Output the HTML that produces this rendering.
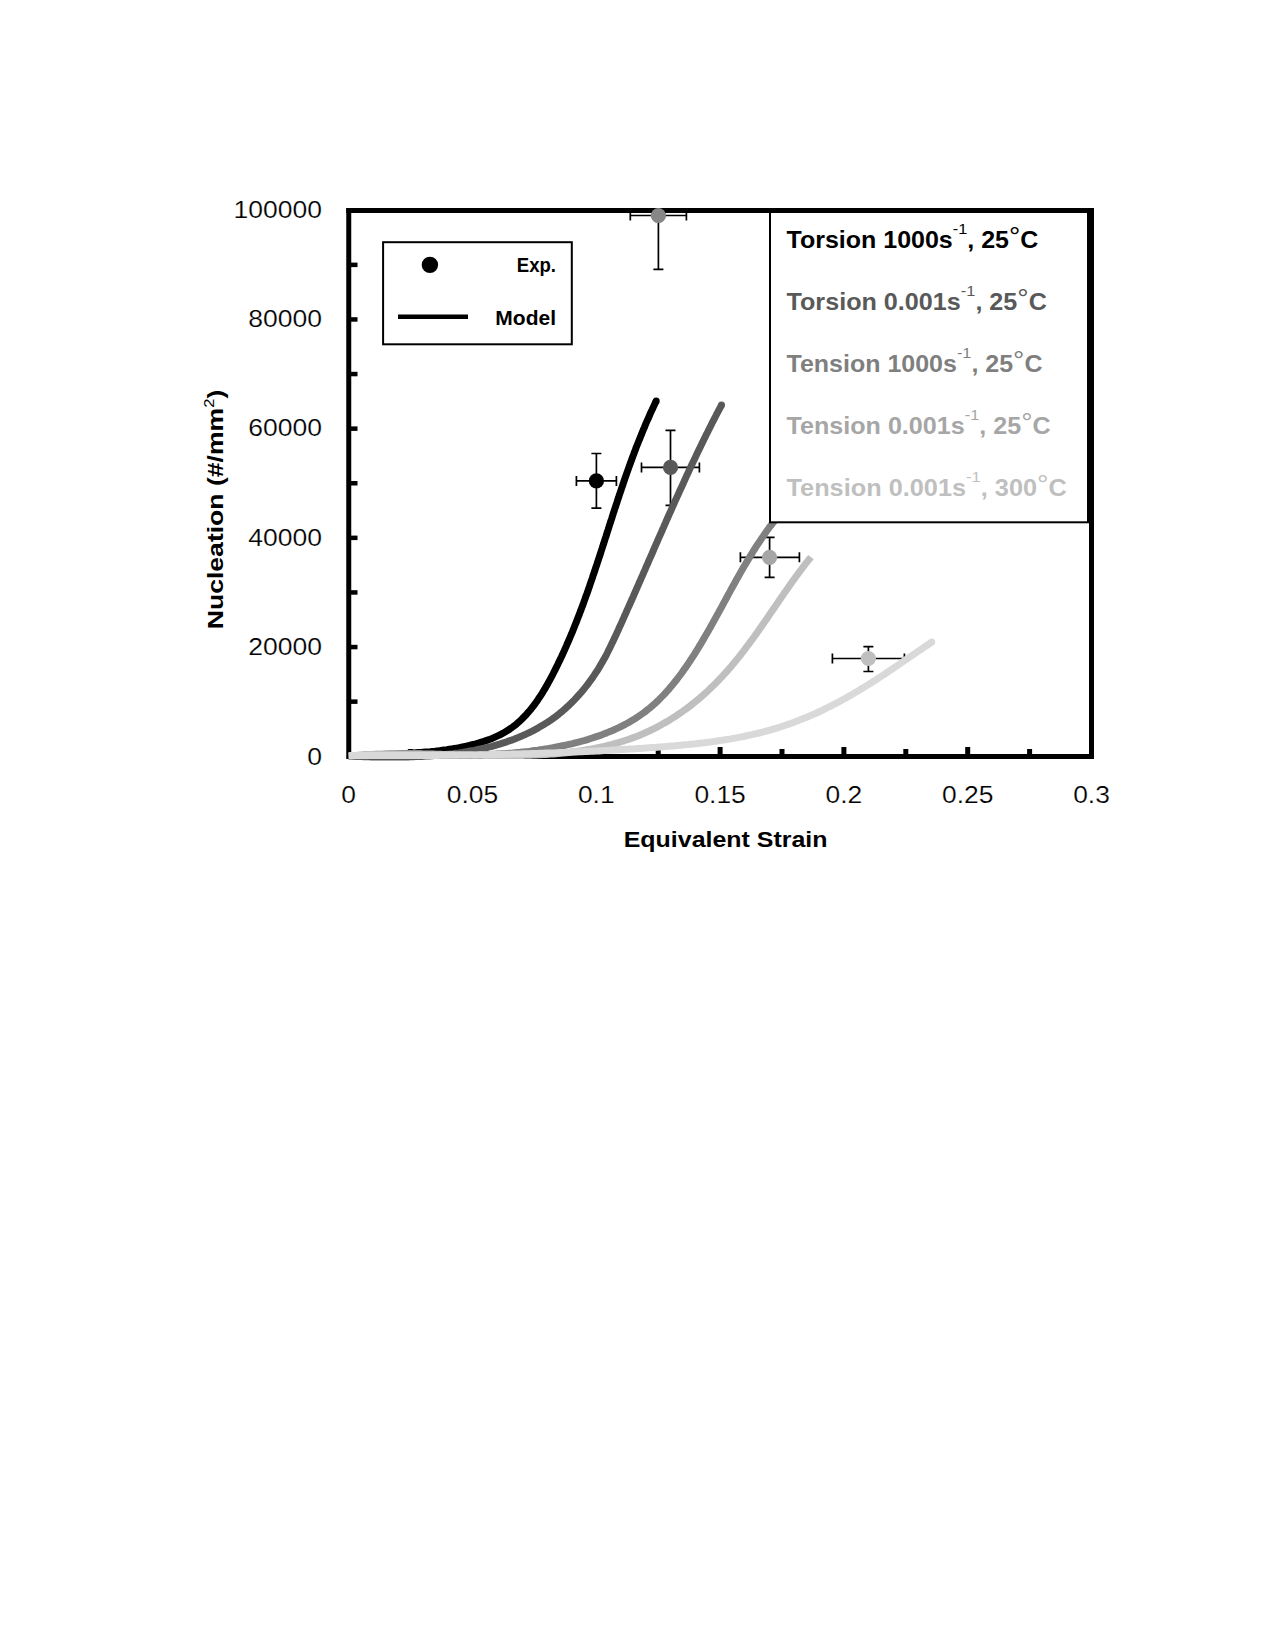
<!DOCTYPE html>
<html><head><meta charset="utf-8"><style>html,body{margin:0;padding:0;background:#fff;width:1275px;height:1650px;overflow:hidden}svg{display:block}</style></head><body>
<svg width="1275" height="1650" viewBox="0 0 1275 1650">
<rect x="0" y="0" width="1275" height="1650" fill="#fff"/>
<text x="322" y="764.5" font-family="Liberation Sans, sans-serif" font-size="24" text-anchor="end" fill="#000" stroke="#fff" stroke-width="0.2" textLength="14.8" lengthAdjust="spacingAndGlyphs">0</text>
<text x="322" y="655.1" font-family="Liberation Sans, sans-serif" font-size="24" text-anchor="end" fill="#000" stroke="#fff" stroke-width="0.2" textLength="73.8" lengthAdjust="spacingAndGlyphs">20000</text>
<text x="322" y="545.7" font-family="Liberation Sans, sans-serif" font-size="24" text-anchor="end" fill="#000" stroke="#fff" stroke-width="0.2" textLength="73.8" lengthAdjust="spacingAndGlyphs">40000</text>
<text x="322" y="436.2" font-family="Liberation Sans, sans-serif" font-size="24" text-anchor="end" fill="#000" stroke="#fff" stroke-width="0.2" textLength="73.8" lengthAdjust="spacingAndGlyphs">60000</text>
<text x="322" y="326.9" font-family="Liberation Sans, sans-serif" font-size="24" text-anchor="end" fill="#000" stroke="#fff" stroke-width="0.2" textLength="73.8" lengthAdjust="spacingAndGlyphs">80000</text>
<text x="322" y="217.5" font-family="Liberation Sans, sans-serif" font-size="24" text-anchor="end" fill="#000" stroke="#fff" stroke-width="0.2" textLength="88.5" lengthAdjust="spacingAndGlyphs">100000</text>
<text x="348.7" y="802.5" font-family="Liberation Sans, sans-serif" font-size="24" text-anchor="middle" fill="#000" stroke="#fff" stroke-width="0.2" textLength="14.7" lengthAdjust="spacingAndGlyphs">0</text>
<text x="472.5" y="802.5" font-family="Liberation Sans, sans-serif" font-size="24" text-anchor="middle" fill="#000" stroke="#fff" stroke-width="0.2" textLength="51.4" lengthAdjust="spacingAndGlyphs">0.05</text>
<text x="596.3" y="802.5" font-family="Liberation Sans, sans-serif" font-size="24" text-anchor="middle" fill="#000" stroke="#fff" stroke-width="0.2" textLength="36.7" lengthAdjust="spacingAndGlyphs">0.1</text>
<text x="720.1" y="802.5" font-family="Liberation Sans, sans-serif" font-size="24" text-anchor="middle" fill="#000" stroke="#fff" stroke-width="0.2" textLength="51.4" lengthAdjust="spacingAndGlyphs">0.15</text>
<text x="843.9" y="802.5" font-family="Liberation Sans, sans-serif" font-size="24" text-anchor="middle" fill="#000" stroke="#fff" stroke-width="0.2" textLength="36.7" lengthAdjust="spacingAndGlyphs">0.2</text>
<text x="967.7" y="802.5" font-family="Liberation Sans, sans-serif" font-size="24" text-anchor="middle" fill="#000" stroke="#fff" stroke-width="0.2" textLength="51.4" lengthAdjust="spacingAndGlyphs">0.25</text>
<text x="1091.5" y="802.5" font-family="Liberation Sans, sans-serif" font-size="24" text-anchor="middle" fill="#000" stroke="#fff" stroke-width="0.2" textLength="36.7" lengthAdjust="spacingAndGlyphs">0.3</text>
<g transform="translate(725.6,0) scale(1.114,1)"><text x="0" y="846.6" font-family="Liberation Sans, sans-serif" font-size="22.4" font-weight="bold" text-anchor="middle" fill="#000">Equivalent Strain</text></g>
<text transform="translate(223,509.5) rotate(-90) scale(1.156,1)" font-family="Liberation Sans, sans-serif" font-size="23" font-weight="bold" text-anchor="middle" fill="#000">Nucleation (#/mm<tspan font-size="14.3" dy="-9" font-weight="normal">2</tspan><tspan dy="9">)</tspan></text>
<rect x="349" y="699.4" width="8.5" height="4.5" fill="#000"/>
<rect x="349" y="644.8" width="8.5" height="4.5" fill="#000"/>
<rect x="349" y="590.2" width="8.5" height="4.5" fill="#000"/>
<rect x="349" y="535.6" width="8.5" height="4.5" fill="#000"/>
<rect x="349" y="481.0" width="8.5" height="4.5" fill="#000"/>
<rect x="349" y="426.4" width="8.5" height="4.5" fill="#000"/>
<rect x="349" y="371.8" width="8.5" height="4.5" fill="#000"/>
<rect x="349" y="317.2" width="8.5" height="4.5" fill="#000"/>
<rect x="349" y="262.6" width="8.5" height="4.5" fill="#000"/>
<rect x="408.1" y="749" width="5" height="7" fill="#000"/>
<rect x="470.0" y="747" width="5" height="9" fill="#000"/>
<rect x="531.9" y="749" width="5" height="7" fill="#000"/>
<rect x="593.8" y="747" width="5" height="9" fill="#000"/>
<rect x="655.7" y="749" width="5" height="7" fill="#000"/>
<rect x="717.6" y="747" width="5" height="9" fill="#000"/>
<rect x="779.5" y="749" width="5" height="7" fill="#000"/>
<rect x="841.4" y="747" width="5" height="9" fill="#000"/>
<rect x="903.3" y="749" width="5" height="7" fill="#000"/>
<rect x="965.2" y="747" width="5" height="9" fill="#000"/>
<rect x="1027.1" y="749" width="5" height="7" fill="#000"/>
<rect x="348.75" y="210.5" width="742.75" height="546" fill="none" stroke="#000" stroke-width="5"/>
<g stroke="#000" stroke-width="1.7" fill="none"><path d="M576.4,480.9 H616.4 M576.4,475.9 V485.9 M616.4,475.9 V485.9"/><path d="M596.4,453.5 V508.2 M591.4,453.5 H601.4 M591.4,508.2 H601.4"/></g><circle cx="596.4" cy="480.9" r="7.6" fill="#000"/>
<g stroke="#000" stroke-width="1.7" fill="none"><path d="M641.5,467.4 H699.4 M641.5,462.4 V472.4 M699.4,462.4 V472.4"/><path d="M670.5,430.3 V505.3 M665.5,430.3 H675.5 M665.5,505.3 H675.5"/></g><circle cx="670.5" cy="467.4" r="7.6" fill="#595959"/>
<g stroke="#000" stroke-width="1.7" fill="none"><path d="M630.3,215.5 H686.4 M630.3,210.5 V220.5 M686.4,210.5 V220.5"/><path d="M658.4,215.5 V269.4 M653.4,269.4 H663.4"/></g><circle cx="658.4" cy="215.5" r="7.5" fill="#878787"/>
<g stroke="#000" stroke-width="1.7" fill="none"><path d="M740.4,557.3 H799.4 M740.4,552.3 V562.3 M799.4,552.3 V562.3"/><path d="M769.6,537.4 V577.3 M764.6,537.4 H774.6 M764.6,577.3 H774.6"/></g><circle cx="769.6" cy="557.3" r="7.6" fill="#a6a6a6"/>
<g stroke="#000" stroke-width="1.7" fill="none"><path d="M832.4,658.5 H904.4 M832.4,653.5 V663.5 M904.4,653.5 V663.5"/><path d="M868.4,646.7 V671.5 M863.4,646.7 H873.4 M863.4,671.5 H873.4"/></g><circle cx="868.4" cy="658.5" r="7.6" fill="#bfbfbf"/>
<path d="M348.7,756.3 L351.1,756.1 L353.6,755.9 L356.0,755.8 L358.4,755.6 L360.8,755.4 L363.2,755.3 L365.6,755.2 L368.0,755.1 L370.4,754.9 L372.8,754.8 L375.2,754.7 L377.6,754.6 L380.0,754.5 L382.4,754.4 L384.8,754.3 L387.1,754.2 L389.5,754.1 L391.9,754.0 L394.3,753.9 L396.7,753.8 L399.1,753.7 L401.5,753.6 L403.9,753.5 L406.3,753.4 L408.7,753.2 L411.1,753.1 L413.5,753.0 L415.9,752.8 L418.3,752.6 L420.7,752.5 L423.1,752.3 L425.5,752.1 L427.9,751.9 L430.3,751.7 L432.7,751.4 L435.1,751.2 L437.4,750.9 L439.8,750.6 L442.2,750.3 L444.6,750.0 L447.0,749.7 L449.4,749.3 L451.8,748.9 L454.3,748.5 L456.7,748.1 L459.1,747.7 L461.5,747.2 L463.9,746.7 L466.3,746.2 L468.7,745.6 L471.1,745.0 L473.5,744.4 L475.9,743.8 L478.3,743.1 L480.6,742.4 L483.0,741.7 L485.3,740.9 L487.6,740.1 L489.9,739.3 L492.2,738.4 L494.4,737.4 L496.6,736.4 L498.8,735.4 L500.9,734.3 L503.0,733.2 L505.1,732.0 L507.1,730.8 L509.1,729.5 L511.0,728.2 L512.9,726.8 L514.7,725.4 L516.6,723.9 L518.3,722.4 L520.1,720.8 L521.8,719.2 L523.4,717.5 L525.1,715.8 L526.7,714.1 L528.2,712.3 L529.8,710.5 L531.3,708.7 L532.7,706.9 L534.2,705.0 L535.6,703.0 L537.0,701.1 L538.3,699.1 L539.7,697.1 L541.0,695.1 L542.3,693.1 L543.5,691.0 L544.8,688.9 L546.0,686.8 L547.2,684.7 L548.4,682.6 L549.6,680.4 L550.7,678.3 L551.9,676.1 L553.0,674.0 L554.1,671.8 L555.2,669.6 L556.3,667.4 L557.4,665.2 L558.4,663.1 L559.5,660.9 L560.5,658.7 L561.6,656.5 L562.6,654.3 L563.6,652.1 L564.6,649.8 L565.6,647.6 L566.6,645.4 L567.5,643.2 L568.5,641.0 L569.5,638.7 L570.4,636.5 L571.3,634.3 L572.3,632.1 L573.2,629.8 L574.1,627.6 L575.0,625.3 L575.9,623.1 L576.8,620.9 L577.6,618.6 L578.5,616.4 L579.4,614.1 L580.2,611.9 L581.1,609.6 L581.9,607.3 L582.8,605.1 L583.6,602.8 L584.4,600.6 L585.2,598.3 L586.0,596.0 L586.9,593.7 L587.7,591.5 L588.5,589.2 L589.3,586.9 L590.0,584.7 L590.8,582.4 L591.6,580.1 L592.4,577.8 L593.1,575.5 L593.9,573.3 L594.7,571.0 L595.4,568.7 L596.2,566.4 L597.0,564.1 L597.7,561.8 L598.5,559.5 L599.2,557.3 L600.0,555.0 L600.7,552.7 L601.4,550.4 L602.2,548.1 L602.9,545.8 L603.7,543.5 L604.4,541.2 L605.1,538.9 L605.9,536.6 L606.6,534.4 L607.3,532.1 L608.1,529.8 L608.8,527.5 L609.5,525.2 L610.3,522.9 L611.0,520.6 L611.8,518.3 L612.5,516.0 L613.2,513.7 L614.0,511.4 L614.7,509.1 L615.5,506.9 L616.2,504.6 L617.0,502.3 L617.7,500.0 L618.5,497.7 L619.2,495.4 L620.0,493.1 L620.8,490.9 L621.5,488.6 L622.3,486.3 L623.1,484.0 L623.8,481.7 L624.6,479.5 L625.4,477.2 L626.2,474.9 L627.0,472.6 L627.8,470.4 L628.6,468.1 L629.4,465.8 L630.2,463.6 L631.1,461.3 L631.9,459.0 L632.7,456.8 L633.6,454.5 L634.4,452.3 L635.3,450.0 L636.1,447.7 L637.0,445.5 L637.9,443.2 L638.8,441.0 L639.7,438.8 L640.6,436.5 L641.5,434.3 L642.4,432.0 L643.3,429.8 L644.3,427.6 L645.2,425.3 L646.1,423.1 L647.1,420.9 L648.1,418.7 L649.1,416.5 L650.0,414.2 L651.0,412.0 L652.1,409.8 L653.1,407.6 L654.1,405.4 L655.1,403.2 L656.2,401.0" fill="none" stroke="#000" stroke-width="7" stroke-linecap="butt" stroke-linejoin="round"/>
<circle cx="656.2" cy="401.0" r="3.5" fill="#000"/>
<path d="M348.7,756.2 L351.2,756.3 L353.7,756.4 L356.2,756.4 L358.7,756.5 L361.2,756.6 L363.8,756.7 L366.3,756.7 L368.9,756.8 L371.4,756.9 L374.0,756.9 L376.6,756.9 L379.2,757.0 L381.8,757.0 L384.4,757.0 L387.0,757.1 L389.6,757.1 L392.2,757.1 L394.9,757.1 L397.5,757.0 L400.1,757.0 L402.8,757.0 L405.4,756.9 L408.1,756.9 L410.7,756.8 L413.4,756.7 L416.0,756.6 L418.7,756.5 L421.3,756.4 L424.0,756.2 L426.6,756.1 L429.3,755.9 L431.9,755.7 L434.6,755.5 L437.2,755.3 L439.9,755.1 L442.5,754.8 L445.2,754.6 L447.8,754.3 L450.5,754.0 L453.1,753.7 L455.7,753.3 L458.4,753.0 L461.0,752.6 L463.6,752.2 L466.2,751.8 L468.8,751.3 L471.4,750.8 L474.0,750.4 L476.6,749.8 L479.1,749.3 L481.7,748.8 L484.3,748.2 L486.8,747.6 L489.3,746.9 L491.9,746.3 L494.4,745.6 L496.9,744.9 L499.4,744.2 L501.8,743.4 L504.3,742.6 L506.8,741.8 L509.2,740.9 L511.6,740.1 L514.0,739.2 L516.4,738.2 L518.8,737.3 L521.2,736.3 L523.5,735.2 L525.9,734.2 L528.2,733.1 L530.5,732.0 L532.8,730.8 L535.1,729.6 L537.3,728.4 L539.5,727.1 L541.7,725.8 L543.9,724.5 L546.1,723.1 L548.3,721.7 L550.4,720.3 L552.5,718.8 L554.6,717.3 L556.7,715.8 L558.7,714.2 L560.7,712.5 L562.7,710.9 L564.7,709.2 L566.6,707.4 L568.6,705.6 L570.5,703.8 L572.3,702.0 L574.2,700.1 L576.0,698.2 L577.8,696.2 L579.6,694.2 L581.3,692.2 L583.0,690.2 L584.7,688.1 L586.3,686.1 L588.0,684.0 L589.5,681.8 L591.1,679.7 L592.6,677.6 L594.1,675.4 L595.5,673.2 L597.0,671.0 L598.4,668.8 L599.7,666.6 L601.0,664.3 L602.3,662.1 L603.6,659.8 L604.9,657.6 L606.1,655.3 L607.3,653.0 L608.4,650.7 L609.6,648.4 L610.7,646.1 L611.8,643.7 L613.0,641.4 L614.0,639.1 L615.1,636.7 L616.2,634.4 L617.3,632.0 L618.4,629.7 L619.4,627.3 L620.5,625.0 L621.6,622.6 L622.6,620.3 L623.7,617.9 L624.7,615.5 L625.8,613.2 L626.8,610.8 L627.9,608.4 L629.0,606.1 L630.0,603.7 L631.1,601.3 L632.1,599.0 L633.2,596.6 L634.2,594.2 L635.3,591.8 L636.3,589.4 L637.3,587.1 L638.4,584.7 L639.4,582.3 L640.5,579.9 L641.5,577.5 L642.6,575.2 L643.6,572.8 L644.7,570.4 L645.7,568.0 L646.7,565.6 L647.8,563.2 L648.8,560.8 L649.9,558.4 L650.9,556.1 L652.0,553.7 L653.0,551.3 L654.0,548.9 L655.1,546.5 L656.1,544.1 L657.2,541.7 L658.2,539.3 L659.3,536.9 L660.3,534.6 L661.4,532.2 L662.4,529.8 L663.5,527.4 L664.5,525.0 L665.6,522.6 L666.6,520.2 L667.7,517.8 L668.7,515.4 L669.8,513.1 L670.9,510.7 L671.9,508.3 L673.0,505.9 L674.1,503.5 L675.1,501.1 L676.2,498.8 L677.3,496.4 L678.4,494.0 L679.4,491.6 L680.5,489.2 L681.6,486.9 L682.7,484.5 L683.8,482.1 L684.8,479.8 L685.9,477.4 L687.0,475.0 L688.1,472.7 L689.2,470.3 L690.3,467.9 L691.4,465.6 L692.5,463.2 L693.7,460.8 L694.8,458.5 L695.9,456.1 L697.0,453.8 L698.1,451.4 L699.3,449.1 L700.4,446.7 L701.5,444.4 L702.7,442.1 L703.8,439.7 L705.0,437.4 L706.1,435.1 L707.3,432.7 L708.4,430.4 L709.6,428.1 L710.8,425.7 L711.9,423.4 L713.1,421.1 L714.3,418.8 L715.5,416.5 L716.7,414.2 L717.9,411.9 L719.1,409.6 L720.3,407.3 L721.5,405.0" fill="none" stroke="#595959" stroke-width="7" stroke-linecap="butt" stroke-linejoin="round"/>
<circle cx="721.5" cy="405.0" r="3.5" fill="#595959"/>
<path d="M348.7,756.3 L351.2,756.2 L353.7,756.1 L356.1,756.0 L358.6,755.9 L361.1,755.8 L363.6,755.7 L366.1,755.7 L368.6,755.6 L371.1,755.5 L373.6,755.5 L376.1,755.4 L378.6,755.4 L381.1,755.4 L383.6,755.3 L386.1,755.3 L388.6,755.3 L391.1,755.3 L393.6,755.3 L396.1,755.3 L398.6,755.3 L401.1,755.3 L403.7,755.3 L406.2,755.3 L408.7,755.3 L411.2,755.3 L413.8,755.3 L416.3,755.3 L418.8,755.3 L421.3,755.3 L423.9,755.3 L426.4,755.3 L428.9,755.4 L431.5,755.4 L434.0,755.4 L436.5,755.4 L439.1,755.4 L441.6,755.4 L444.1,755.4 L446.7,755.4 L449.2,755.4 L451.7,755.3 L454.3,755.3 L456.8,755.3 L459.3,755.3 L461.9,755.2 L464.4,755.2 L467.0,755.2 L469.5,755.1 L472.0,755.0 L474.6,755.0 L477.1,754.9 L479.6,754.8 L482.2,754.7 L484.7,754.6 L487.3,754.5 L489.8,754.4 L492.3,754.3 L494.9,754.2 L497.4,754.0 L499.9,753.9 L502.4,753.7 L505.0,753.6 L507.5,753.4 L510.0,753.2 L512.6,753.0 L515.1,752.7 L517.6,752.5 L520.1,752.3 L522.7,752.0 L525.2,751.7 L527.7,751.5 L530.2,751.2 L532.7,750.8 L535.2,750.5 L537.7,750.2 L540.3,749.8 L542.8,749.4 L545.3,749.0 L547.8,748.6 L550.3,748.2 L552.8,747.8 L555.3,747.3 L557.8,746.8 L560.3,746.3 L562.7,745.8 L565.2,745.3 L567.7,744.7 L570.2,744.1 L572.7,743.6 L575.2,742.9 L577.6,742.3 L580.1,741.7 L582.6,741.0 L585.0,740.3 L587.5,739.6 L589.9,738.8 L592.3,738.0 L594.8,737.2 L597.2,736.4 L599.6,735.6 L602.0,734.7 L604.3,733.8 L606.7,732.9 L609.0,731.9 L611.4,731.0 L613.7,730.0 L616.0,728.9 L618.3,727.8 L620.5,726.8 L622.8,725.6 L625.0,724.5 L627.2,723.3 L629.4,722.1 L631.5,720.8 L633.7,719.5 L635.8,718.2 L637.8,716.8 L639.9,715.4 L641.9,714.0 L643.9,712.6 L645.9,711.1 L647.8,709.5 L649.8,708.0 L651.7,706.4 L653.5,704.7 L655.4,703.1 L657.2,701.4 L659.0,699.7 L660.7,697.9 L662.5,696.1 L664.2,694.3 L665.9,692.5 L667.6,690.6 L669.2,688.8 L670.8,686.8 L672.4,684.9 L674.0,683.0 L675.6,681.0 L677.2,679.0 L678.7,677.0 L680.2,675.0 L681.7,673.0 L683.2,670.9 L684.6,668.8 L686.1,666.8 L687.5,664.7 L688.9,662.6 L690.3,660.5 L691.7,658.3 L693.1,656.2 L694.5,654.1 L695.8,651.9 L697.1,649.8 L698.5,647.6 L699.8,645.4 L701.1,643.3 L702.4,641.1 L703.7,638.9 L704.9,636.7 L706.2,634.5 L707.5,632.4 L708.7,630.2 L710.0,628.0 L711.2,625.8 L712.4,623.6 L713.7,621.3 L714.9,619.1 L716.1,616.9 L717.3,614.7 L718.6,612.5 L719.8,610.3 L721.0,608.1 L722.2,605.9 L723.4,603.6 L724.6,601.4 L725.8,599.2 L727.0,597.0 L728.2,594.8 L729.4,592.6 L730.6,590.4 L731.8,588.1 L733.1,585.9 L734.3,583.7 L735.5,581.5 L736.7,579.3 L738.0,577.1 L739.2,575.0 L740.4,572.8 L741.7,570.6 L742.9,568.4 L744.2,566.2 L745.5,564.1 L746.8,561.9 L748.1,559.7 L749.4,557.6 L750.7,555.4 L752.0,553.3 L753.3,551.2 L754.7,549.0 L756.0,546.9 L757.4,544.8 L758.8,542.7 L760.2,540.6 L761.6,538.5 L763.0,536.5 L764.4,534.4 L765.9,532.3 L767.3,530.3 L768.8,528.2 L770.3,526.2 L771.9,524.2 L773.4,522.2 L775.0,520.2 L776.5,518.2 L778.1,516.2 L779.7,514.3 L781.4,512.3 L783.0,510.4 L784.7,508.5" fill="none" stroke="#808080" stroke-width="7" stroke-linecap="butt" stroke-linejoin="round"/>
<circle cx="784.7" cy="508.5" r="3.5" fill="#808080"/>
<path d="M348.8,756.2 L351.0,755.9 L353.3,755.7 L355.6,755.5 L357.9,755.3 L360.2,755.1 L362.5,754.9 L364.8,754.8 L367.1,754.6 L369.5,754.5 L371.8,754.4 L374.2,754.3 L376.5,754.1 L378.9,754.1 L381.3,754.0 L383.7,753.9 L386.1,753.8 L388.5,753.8 L390.9,753.8 L393.3,753.7 L395.8,753.7 L398.2,753.7 L400.6,753.7 L403.1,753.7 L405.6,753.7 L408.0,753.7 L410.5,753.7 L413.0,753.7 L415.5,753.8 L418.0,753.8 L420.5,753.8 L423.0,753.9 L425.5,753.9 L428.0,754.0 L430.5,754.0 L433.0,754.1 L435.6,754.2 L438.1,754.2 L440.6,754.3 L443.2,754.4 L445.7,754.4 L448.3,754.5 L450.8,754.6 L453.4,754.6 L455.9,754.7 L458.5,754.8 L461.0,754.9 L463.6,754.9 L466.2,755.0 L468.7,755.1 L471.3,755.1 L473.9,755.2 L476.5,755.2 L479.0,755.3 L481.6,755.3 L484.2,755.4 L486.8,755.4 L489.3,755.5 L491.9,755.5 L494.5,755.5 L497.1,755.6 L499.7,755.6 L502.2,755.6 L504.8,755.6 L507.4,755.6 L510.0,755.6 L512.6,755.5 L515.1,755.5 L517.7,755.5 L520.3,755.4 L522.8,755.4 L525.4,755.3 L528.0,755.2 L530.5,755.2 L533.1,755.1 L535.7,755.0 L538.2,754.8 L540.8,754.7 L543.3,754.6 L545.8,754.4 L548.4,754.2 L550.9,754.1 L553.5,753.9 L556.0,753.7 L558.5,753.4 L561.0,753.2 L563.5,753.0 L566.0,752.7 L568.5,752.4 L571.0,752.1 L573.5,751.8 L576.0,751.5 L578.5,751.1 L581.0,750.8 L583.4,750.4 L585.9,750.0 L588.4,749.5 L590.8,749.1 L593.2,748.7 L595.7,748.2 L598.1,747.7 L600.5,747.2 L602.9,746.6 L605.3,746.1 L607.7,745.5 L610.1,744.9 L612.5,744.3 L614.8,743.6 L617.2,743.0 L619.5,742.3 L621.9,741.5 L624.2,740.8 L626.5,740.0 L628.8,739.3 L631.1,738.4 L633.4,737.6 L635.7,736.8 L638.0,735.9 L640.2,735.0 L642.5,734.0 L644.7,733.0 L646.9,732.0 L649.1,731.0 L651.3,730.0 L653.5,728.9 L655.7,727.8 L657.8,726.7 L660.0,725.5 L662.1,724.3 L664.2,723.1 L666.4,721.9 L668.5,720.7 L670.5,719.4 L672.6,718.1 L674.7,716.8 L676.7,715.4 L678.8,714.1 L680.8,712.7 L682.8,711.3 L684.8,709.8 L686.8,708.4 L688.8,706.9 L690.7,705.4 L692.7,703.9 L694.6,702.3 L696.5,700.8 L698.4,699.2 L700.3,697.6 L702.2,695.9 L704.0,694.3 L705.9,692.6 L707.7,691.0 L709.5,689.3 L711.3,687.5 L713.1,685.8 L714.9,684.1 L716.6,682.3 L718.4,680.5 L720.1,678.7 L721.8,676.9 L723.5,675.0 L725.2,673.2 L726.9,671.3 L728.5,669.4 L730.2,667.6 L731.8,665.6 L733.4,663.7 L735.0,661.8 L736.6,659.8 L738.2,657.9 L739.8,655.9 L741.3,653.9 L742.9,651.9 L744.4,649.9 L745.9,647.9 L747.4,645.9 L748.9,643.9 L750.4,641.9 L751.9,639.8 L753.4,637.8 L754.9,635.7 L756.4,633.7 L757.8,631.6 L759.3,629.5 L760.7,627.5 L762.2,625.4 L763.6,623.3 L765.0,621.3 L766.5,619.2 L767.9,617.1 L769.3,615.0 L770.7,612.9 L772.2,610.9 L773.6,608.8 L775.0,606.7 L776.4,604.7 L777.8,602.6 L779.2,600.5 L780.6,598.5 L782.0,596.4 L783.4,594.4 L784.8,592.3 L786.3,590.3 L787.7,588.3 L789.1,586.2 L790.5,584.2 L791.9,582.2 L793.4,580.2 L794.8,578.2 L796.2,576.2 L797.7,574.3 L799.1,572.3 L800.6,570.4 L802.0,568.4 L803.5,566.5 L804.9,564.6 L806.4,562.7 L807.9,560.9 L809.4,559.0 L810.9,557.1" fill="none" stroke="#bfbfbf" stroke-width="7" stroke-linecap="butt" stroke-linejoin="round"/>
<path d="M348.7,755.5 L351.5,755.5 L354.3,755.5 L357.1,755.5 L359.9,755.5 L362.7,755.6 L365.4,755.6 L368.2,755.6 L371.0,755.6 L373.8,755.6 L376.6,755.6 L379.4,755.6 L382.2,755.6 L384.9,755.6 L387.7,755.6 L390.5,755.6 L393.3,755.6 L396.1,755.6 L398.8,755.6 L401.6,755.6 L404.4,755.6 L407.2,755.5 L410.0,755.5 L412.7,755.5 L415.5,755.5 L418.3,755.5 L421.1,755.5 L423.8,755.5 L426.6,755.4 L429.4,755.4 L432.2,755.4 L434.9,755.4 L437.7,755.4 L440.5,755.3 L443.3,755.3 L446.0,755.3 L448.8,755.3 L451.6,755.2 L454.4,755.2 L457.1,755.2 L459.9,755.1 L462.7,755.1 L465.5,755.1 L468.2,755.0 L471.0,755.0 L473.8,754.9 L476.6,754.9 L479.3,754.8 L482.1,754.8 L484.9,754.7 L487.6,754.7 L490.4,754.6 L493.2,754.6 L496.0,754.5 L498.7,754.5 L501.5,754.4 L504.3,754.3 L507.1,754.3 L509.8,754.2 L512.6,754.1 L515.4,754.1 L518.1,754.0 L520.9,753.9 L523.7,753.8 L526.5,753.8 L529.2,753.7 L532.0,753.6 L534.8,753.5 L537.6,753.4 L540.3,753.3 L543.1,753.2 L545.9,753.1 L548.7,753.1 L551.4,753.0 L554.2,752.9 L557.0,752.7 L559.8,752.6 L562.5,752.5 L565.3,752.4 L568.1,752.3 L570.9,752.2 L573.6,752.1 L576.4,751.9 L579.2,751.8 L582.0,751.7 L584.8,751.6 L587.5,751.4 L590.3,751.3 L593.1,751.2 L595.9,751.0 L598.7,750.9 L601.4,750.7 L604.2,750.6 L607.0,750.4 L609.8,750.3 L612.6,750.1 L615.4,750.0 L618.1,749.8 L620.9,749.6 L623.7,749.5 L626.5,749.3 L629.3,749.1 L632.1,748.9 L634.9,748.8 L637.7,748.6 L640.4,748.4 L643.2,748.2 L646.0,748.0 L648.8,747.8 L651.6,747.6 L654.4,747.4 L657.2,747.2 L660.0,747.0 L662.8,746.8 L665.6,746.6 L668.4,746.3 L671.2,746.1 L673.9,745.9 L676.7,745.6 L679.5,745.4 L682.3,745.1 L685.1,744.8 L687.9,744.6 L690.7,744.3 L693.4,744.0 L696.2,743.7 L699.0,743.3 L701.8,743.0 L704.5,742.7 L707.3,742.3 L710.1,742.0 L712.8,741.6 L715.6,741.2 L718.3,740.8 L721.1,740.4 L723.8,740.0 L726.6,739.5 L729.3,739.1 L732.1,738.6 L734.8,738.1 L737.5,737.6 L740.2,737.1 L742.9,736.6 L745.6,736.0 L748.3,735.4 L751.0,734.8 L753.7,734.2 L756.4,733.6 L759.1,733.0 L761.8,732.3 L764.4,731.6 L767.1,730.9 L769.7,730.2 L772.4,729.4 L775.0,728.6 L777.6,727.8 L780.3,727.0 L782.9,726.2 L785.5,725.3 L788.1,724.4 L790.6,723.5 L793.2,722.6 L795.8,721.6 L798.4,720.6 L800.9,719.6 L803.5,718.6 L806.0,717.6 L808.5,716.5 L811.0,715.4 L813.6,714.3 L816.1,713.2 L818.6,712.0 L821.1,710.8 L823.5,709.7 L826.0,708.4 L828.5,707.2 L831.0,706.0 L833.4,704.7 L835.9,703.4 L838.3,702.1 L840.7,700.8 L843.2,699.5 L845.6,698.2 L848.0,696.8 L850.4,695.4 L852.8,694.0 L855.2,692.6 L857.6,691.2 L860.0,689.8 L862.3,688.3 L864.7,686.9 L867.1,685.4 L869.4,684.0 L871.8,682.5 L874.1,681.0 L876.5,679.5 L878.8,677.9 L881.1,676.4 L883.5,674.9 L885.8,673.3 L888.1,671.8 L890.4,670.2 L892.7,668.7 L895.0,667.1 L897.3,665.6 L899.6,664.0 L901.9,662.4 L904.2,660.8 L906.5,659.3 L908.8,657.7 L911.1,656.1 L913.4,654.6 L915.7,653.0 L918.0,651.4 L920.3,649.9 L922.6,648.3 L924.8,646.7 L927.1,645.2 L929.4,643.7 L931.7,642.1" fill="none" stroke="#d9d9d9" stroke-width="7" stroke-linecap="butt" stroke-linejoin="round"/>
<circle cx="931.7" cy="642.1" r="3.5" fill="#d9d9d9"/>
<rect x="383.1" y="242.2" width="188.7" height="102.1" fill="#fff" stroke="#000" stroke-width="2"/>
<circle cx="429.9" cy="264.9" r="8.2" fill="#000"/>
<rect x="398" y="314.5" width="70" height="4.5" fill="#000"/>
<text transform="translate(556,0) scale(0.93,1)" x="0" y="271.9" font-family="Liberation Sans, sans-serif" font-size="20" font-weight="bold" text-anchor="end" fill="#000">Exp.</text>
<text transform="translate(556,0) scale(1.05,1)" x="0" y="324.9" font-family="Liberation Sans, sans-serif" font-size="20" font-weight="bold" text-anchor="end" fill="#000">Model</text>
<rect x="770" y="211" width="318" height="311.3" fill="#fff" stroke="#000" stroke-width="2"/>
<rect x="346.25" y="208" width="747.75" height="5" fill="#000"/>
<rect x="1089.3" y="208" width="4.4" height="551" fill="#000"/>
<circle cx="658.4" cy="215.5" r="7.5" fill="#878787"/>
<text transform="translate(786.5,0) scale(1.0874,1)" x="0" y="248.4" font-family="Liberation Sans, sans-serif" font-size="23" font-weight="bold" fill="#000">Torsion 1000s<tspan font-size="15" font-weight="normal" dy="-14">-1</tspan><tspan dy="14">, 25</tspan><tspan font-size="26" font-weight="normal" dy="-3">°</tspan><tspan dy="3">C</tspan></text>
<text transform="translate(786.5,0) scale(1.0943,1)" x="0" y="310.4" font-family="Liberation Sans, sans-serif" font-size="23" font-weight="bold" fill="#595959">Torsion 0.001s<tspan font-size="15" font-weight="normal" dy="-14">-1</tspan><tspan dy="14">, 25</tspan><tspan font-size="26" font-weight="normal" dy="-3">°</tspan><tspan dy="3">C</tspan></text>
<text transform="translate(786.5,0) scale(1.087,1)" x="0" y="371.9" font-family="Liberation Sans, sans-serif" font-size="23" font-weight="bold" fill="#7f7f7f">Tension 1000s<tspan font-size="15" font-weight="normal" dy="-14">-1</tspan><tspan dy="14">, 25</tspan><tspan font-size="26" font-weight="normal" dy="-3">°</tspan><tspan dy="3">C</tspan></text>
<text transform="translate(786.5,0) scale(1.0923,1)" x="0" y="433.9" font-family="Liberation Sans, sans-serif" font-size="23" font-weight="bold" fill="#a6a6a6">Tension 0.001s<tspan font-size="15" font-weight="normal" dy="-14">-1</tspan><tspan dy="14">, 25</tspan><tspan font-size="26" font-weight="normal" dy="-3">°</tspan><tspan dy="3">C</tspan></text>
<text transform="translate(786.5,0) scale(1.101,1)" x="0" y="496.0" font-family="Liberation Sans, sans-serif" font-size="23" font-weight="bold" fill="#bfbfbf">Tension 0.001s<tspan font-size="15" font-weight="normal" dy="-14">-1</tspan><tspan dy="14">, 300</tspan><tspan font-size="26" font-weight="normal" dy="-3">°</tspan><tspan dy="3">C</tspan></text>
</svg>
</body></html>
